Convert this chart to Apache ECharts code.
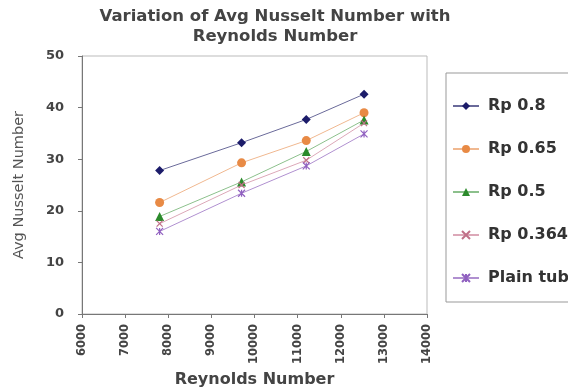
<!DOCTYPE html>
<html><head><meta charset="utf-8">
<script src="https://cdn.jsdelivr.net/npm/echarts@6/dist/echarts.min.js"></script>
<style>html,body{margin:0;padding:0;background:#fff}#c{width:568px;height:391px}</style>
</head><body><div id="c"></div>
<script>
const reynolds = [7800, 9700, 11200, 12540];
const rp08 = [27.8, 33.2, 37.7, 42.6];
const rp065 = [21.6, 29.3, 33.6, 39.0];
const rp05 = [18.9, 25.6, 31.5, 37.6];
const rp0364 = [17.5, 25.0, 29.8, 37.0];
const plainTube = [16.0, 23.4, 28.7, 34.9];
const seriesNames = ['Rp 0.8', 'Rp 0.65', 'Rp 0.5', 'Rp 0.364', 'Plain tube'];
const xTicks = {min: 6000, max: 14000, step: 1000};
const yTicks = {min: 0, max: 50, step: 10};

const pair = v => reynolds.map((x, i) => [x, v[i]]);
const xPath = 'path://M0,0L10,10M10,0L0,10';
const starPath = 'path://M0,0L10,10M10,0L0,10M5,0L5,10';
const styles = [
  {data: rp08, symbol: 'diamond', size: 9, color: '#1c1c6a', line: '#6a6a9a'},
  {data: rp065, symbol: 'circle', size: 9, color: '#e88a45', line: '#f0b890'},
  {data: rp05, symbol: 'triangle', size: 9, color: '#2b8a2b', line: '#8cc08c'},
  {data: rp0364, symbol: xPath, size: 6, color: '#c07088', line: '#dca8b8'},
  {data: plainTube, symbol: starPath, size: 7, color: '#9060c0', line: '#b090d0'}
];
const series = styles.map((s, i) => ({
  name: seriesNames[i], type: 'line', data: pair(s.data),
  symbol: s.symbol, symbolSize: s.size,
  lineStyle: {color: s.line, width: 1},
  itemStyle: {color: s.color, borderColor: s.color, borderWidth: (i >= 3 ? 1.2 : 0)},
  emphasis: {disabled: true}, animation: false
}));
const bold = 'DejaVu Sans, Verdana, sans-serif';
const chart = echarts.init(document.getElementById('c'));
chart.setOption({
  animation: false,
  title: {text: 'Variation of Avg Nusselt Number with\nReynolds Number', left: 270, top: 2, textAlign: 'center',
    textStyle: {fontFamily: bold, fontWeight: 'bold', fontSize: 16.5, color: '#444', lineHeight: 20}},
  grid: {left: 82, right: 141, top: 56, bottom: 77, show: true, borderColor: '#bbb', borderWidth: 1,
    containLabel: false, outerBoundsMode: 'none'},
  xAxis: {type: 'value', min: xTicks.min, max: xTicks.max, interval: xTicks.step,
    name: 'Reynolds Number', nameLocation: 'middle', nameGap: 58,
    nameTextStyle: {fontFamily: bold, fontWeight: 'bold', fontSize: 16, color: '#444'},
    axisLine: {lineStyle: {color: '#777'}}, axisTick: {show: true, length: 4, lineStyle: {color: '#777'}},
    axisLabel: {rotate: 90, fontFamily: bold, fontWeight: 'bold', fontSize: 11.5, color: '#444', margin: 10,
      formatter: v => String(v)},
    splitLine: {show: false}},
  yAxis: {type: 'value', min: yTicks.min, max: yTicks.max, interval: yTicks.step,
    name: 'Avg Nusselt Number', nameLocation: 'middle', nameGap: 55,
    nameTextStyle: {fontFamily: bold, fontSize: 14.5, color: '#555'},
    axisLine: {show: true, lineStyle: {color: '#777'}}, axisTick: {show: true, length: 4, lineStyle: {color: '#777'}},
    axisLabel: {fontFamily: bold, fontWeight: 'bold', fontSize: 13, color: '#444', margin: 18},
    splitLine: {show: false}},
  legend: {orient: 'vertical', left: 446, top: 73, itemWidth: 26, itemHeight: 10, itemGap: 27,
    padding: [25, 40, 16, 6], borderColor: '#999', borderWidth: 1,
    textStyle: {fontFamily: bold, fontWeight: 'bold', fontSize: 16, color: '#333', padding: [0, 0, 0, 4]},
    data: seriesNames},
  series: series
});
</script></body></html>
